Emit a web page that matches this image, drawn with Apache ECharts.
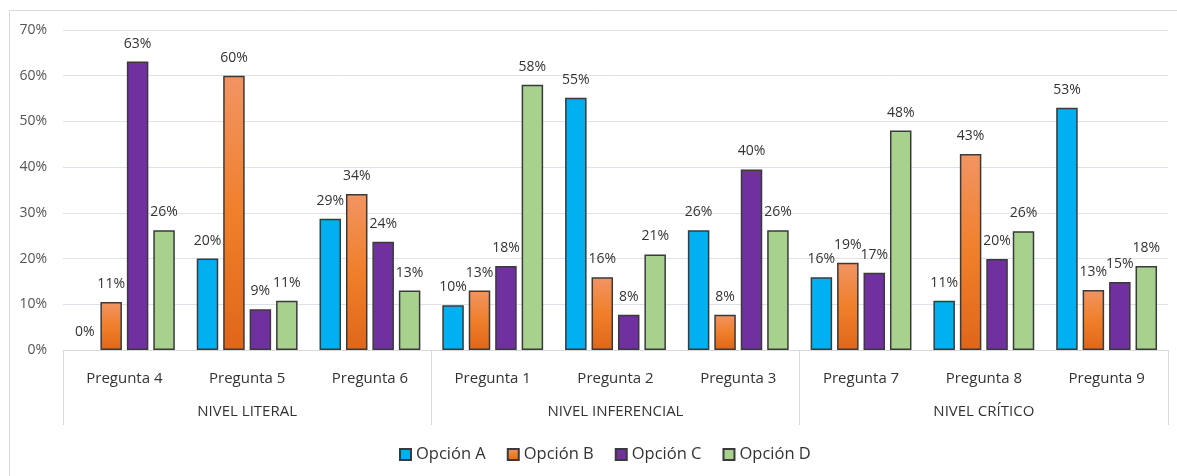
<!DOCTYPE html>
<html>
<head>
<meta charset="utf-8">
<script src="https://cdn.jsdelivr.net/npm/echarts@6/dist/echarts.min.js"></script>
<style>html,body{margin:0;padding:0;background:#fff;}#c{width:1177px;height:476px;}</style>
</head>
<body>
<div id="c"></div>
<script>
const questions = ['Pregunta 4','Pregunta 5','Pregunta 6','Pregunta 1','Pregunta 2','Pregunta 3','Pregunta 7','Pregunta 8','Pregunta 9'];
const levels = ['NIVEL LITERAL','NIVEL INFERENCIAL','NIVEL CRÍTICO'];
const seriesNames = ['Opción A','Opción B','Opción C','Opción D'];
const opcionA = [0, 20, 28.7, 9.8, 55.2, 26.2, 15.9, 10.8, 53.0];
const opcionB = [10.5, 60, 34.1, 13.0, 15.9, 7.7, 19.1, 42.9, 13.1];
const opcionC = [63.1, 8.9, 23.7, 18.4, 7.7, 39.5, 16.9, 19.9, 14.9];
const opcionD = [26.2, 10.8, 13.0, 58.0, 20.9, 26.2, 48.0, 26.0, 18.4];
const yTicks = [0, 10, 20, 30, 40, 50, 60, 70];

const FONT = 'Open Sans';
const TXT = '#333333';
const orangeGrad = new echarts.graphic.LinearGradient(0, 0, 0, 1, [
  {offset: 0, color: '#F29463'},
  {offset: 0.5, color: '#F07F2A'},
  {offset: 1, color: '#E0661A'}
]);
const fills = ['#00B0F0', orangeGrad, '#7030A0', '#A9D18E'];
const values = [opcionA, opcionB, opcionC, opcionD];

const chart = echarts.init(document.getElementById('c'), null, {renderer: 'canvas'});
chart.setOption({
  animation: false,
  backgroundColor: '#fff',
  textStyle: {fontFamily: FONT},
  graphic: [{
    type: 'rect', silent: true, z: -1,
    shape: {x: 9.5, y: 10.5, width: 1200, height: 500},
    style: {fill: 'none', stroke: '#D9D9D9', lineWidth: 1}
  }],
  grid: {left: 63, right: 9, top: 30, bottom: 126, containLabel: false},
  legend: {
    data: seriesNames,
    left: 394, top: 441,
    itemWidth: 11, itemHeight: 11, itemGap: 21,
    icon: 'rect',
    textStyle: {fontFamily: FONT, fontSize: 16.5, color: TXT}
  },
  xAxis: [{
    type: 'category', data: questions, position: 'bottom',
    axisLine: {show: true, lineStyle: {color: '#D9D9D9', width: 1}},
    axisTick: {show: false},
    axisLabel: {margin: 21, fontSize: 15, color: TXT, fontFamily: FONT, interval: 0}
  }, {
    type: 'category', data: levels, position: 'bottom',
    axisLine: {show: false},
    axisTick: {show: true, length: 75, lineStyle: {color: '#D9D9D9', width: 1}},
    axisLabel: {margin: 54, fontSize: 15, color: TXT, fontFamily: FONT, interval: 0},
    splitLine: {show: false}
  }],
  yAxis: {
    type: 'value', min: 0, max: 70, interval: 10,
    axisLine: {show: false}, axisTick: {show: false},
    splitLine: {lineStyle: {color: '#DDE1E8', width: 1}},
    axisLabel: {
      margin: 16, fontSize: 14, color: '#555555', fontFamily: FONT,
      formatter: v => yTicks.includes(v) ? v + '%' : ''
    }
  },
  series: seriesNames.map((name, i) => ({
    name: name,
    type: 'bar',
    xAxisIndex: 0,
    data: values[i].map(v => v === 0 ? {value: v, itemStyle: {borderWidth: 0}} : v),
    barWidth: 21.5,
    barGap: '23%',
    itemStyle: {color: fills[i], borderColor: '#3A3A3A', borderWidth: 1.5},
    label: {
      show: true, position: 'top', distance: 11,
      fontSize: 14, color: TXT, fontFamily: FONT,
      formatter: p => Math.round(p.value) + '%'
    }
  }))
});
</script>
</body>
</html>
